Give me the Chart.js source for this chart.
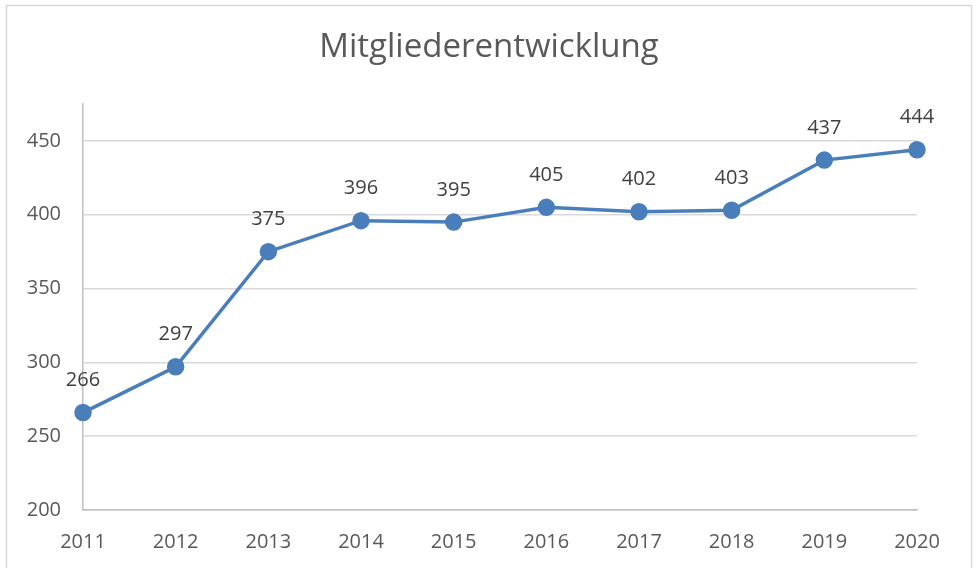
<!DOCTYPE html>
<html>
<head>
<meta charset="utf-8">
<script src="https://cdn.jsdelivr.net/npm/chart.js@4"></script>
<style>
  html, body { margin: 0; padding: 0; background: #fff; }
  #wrap { width: 974px; height: 568px; position: relative; }
</style>
</head>
<body>
<div id="wrap"><canvas id="chart"></canvas></div>
<script>
// Data
const years = ['2011', '2012', '2013', '2014', '2015', '2016', '2017', '2018', '2019', '2020'];
const members = [266, 297, 375, 396, 395, 405, 402, 403, 437, 444];
const yTicks = [200, 250, 300, 350, 400, 450];
const chartTitle = 'Mitgliederentwicklung';

const FONT = '"Open Sans", sans-serif';

// Light frame and the title, centred on the whole chart like in Excel
const framePlugin = {
    id: 'frame',
    beforeDraw(chart) {
        const ctx = chart.ctx;
        ctx.save();
        ctx.strokeStyle = '#d9d9d9';
        ctx.lineWidth = 1.5;
        ctx.strokeRect(6.5, 5.5, 965, 620);
        ctx.font = '33px ' + FONT;
        ctx.fillStyle = '#595959';
        ctx.textAlign = 'center';
        ctx.textBaseline = 'middle';
        ctx.fillText(chartTitle, chart.width / 2 + 2, 48);
        ctx.restore();
    }
};

// Values above each point
const valueLabels = {
    id: 'valueLabels',
    afterDatasetsDraw(chart) {
        const ctx = chart.ctx;
        const meta = chart.getDatasetMeta(0);
        ctx.save();
        ctx.font = '20px ' + FONT;
        ctx.fillStyle = '#404040';
        ctx.textAlign = 'center';
        ctx.textBaseline = 'middle';
        meta.data.forEach((pt, i) => {
            ctx.fillText(chart.data.datasets[0].data[i], pt.x, pt.y - 32);
        });
        ctx.restore();
    }
};

new Chart(document.getElementById('chart').getContext('2d'), {
    type: 'line',
    data: {
        labels: years,
        datasets: [{
            label: 'Mitglieder',
            data: members,
            borderColor: '#4a7ebb',
            backgroundColor: '#4a7ebb',
            borderWidth: 3.5,
            pointRadius: 7,
            pointHoverRadius: 7,
            tension: 0
        }]
    },
    options: {
        responsive: true,
        maintainAspectRatio: false,
        animation: false,
        layout: { padding: { left: 0, right: 57, top: 104, bottom: 0 } },
        plugins: {
            legend: { display: false },
            tooltip: { enabled: false },
            title: { display: false }
        },
        scales: {
            x: {
                offset: false,
                grid: { display: false, drawTicks: false },
                border: { color: '#bfbfbf', width: 1.5 },
                ticks: {
                    color: '#595959',
                    font: { family: FONT, size: 20 },
                    padding: 20,
                    maxRotation: 0
                },
                afterFit(scale) { scale.height = 58; }
            },
            y: {
                min: yTicks[0],
                max: 475,
                grid: { color: '#d9d9d9', lineWidth: 1.5, drawTicks: false },
                border: { color: '#bfbfbf', width: 1.5 },
                ticks: {
                    stepSize: 50,
                    color: '#595959',
                    font: { family: FONT, size: 20 },
                    padding: 22
                },
                afterBuildTicks(scale) {
                    scale.ticks = yTicks.map(v => ({ value: v }));
                },
                afterFit(scale) { scale.width = 83; }
            }
        }
    },
    plugins: [framePlugin, valueLabels]
});
</script>
</body>
</html>
